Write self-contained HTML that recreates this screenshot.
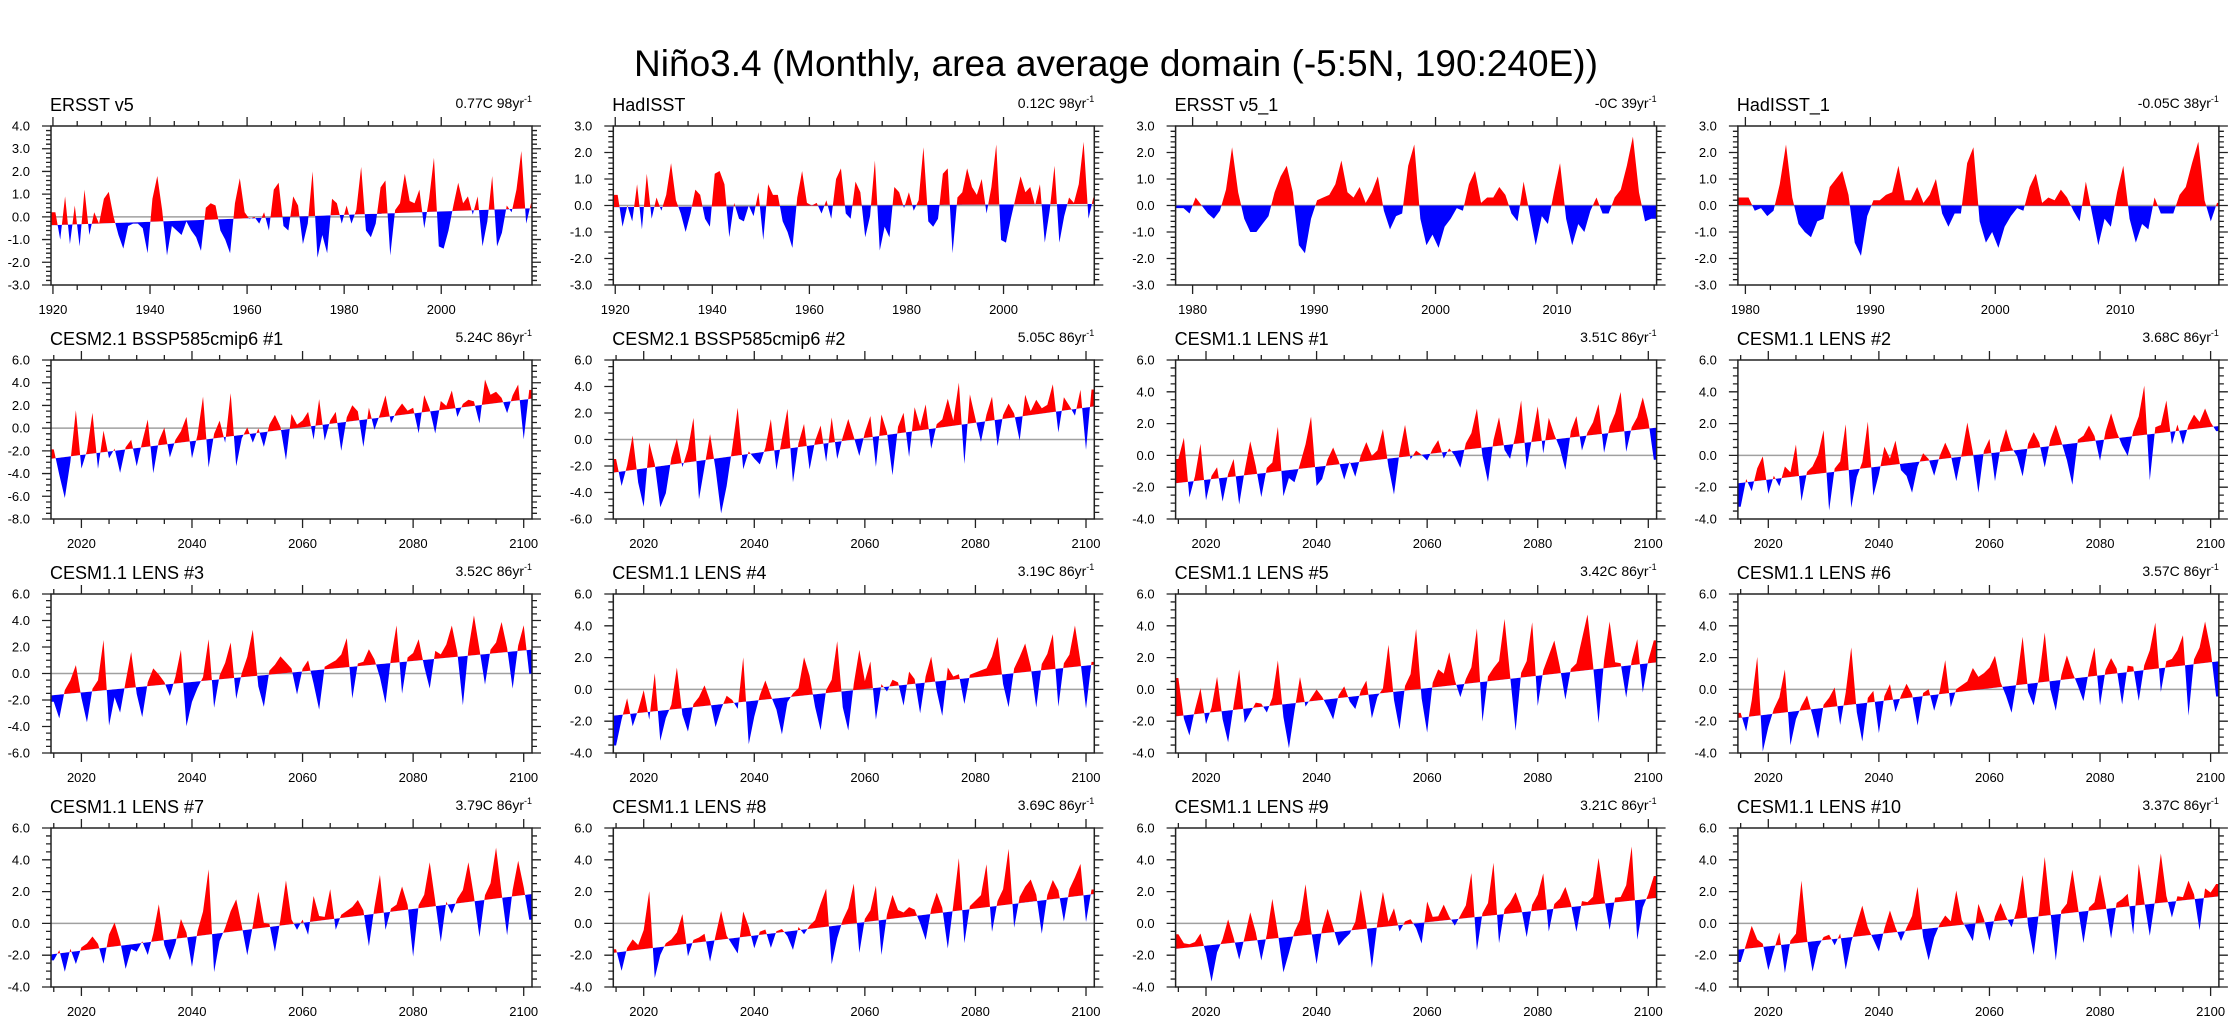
<!DOCTYPE html>
<html>
<head>
<meta charset="utf-8">
<style>
  html, body { margin: 0; padding: 0; background: #fff; }
  #wrap { width: 2236px; height: 1027px; position: relative; overflow: hidden; }
  svg text { font-family: "Liberation Sans", sans-serif; fill: #000; }
</style>
</head>
<body>
<div id="wrap">
<svg id="fig" width="2236" height="1027" viewBox="0 0 2236 1027" xmlns="http://www.w3.org/2000/svg">
  <text x="1116" y="76" text-anchor="middle" font-size="37">Niño3.4 (Monthly, area average domain (-5:5N, 190:240E))</text>
</svg>
</div>
<script>
// ---------- data ----------
const panelTitles = ["ERSST v5","HadISST","ERSST v5_1","HadISST_1",
  "CESM2.1 BSSP585cmip6 #1","CESM2.1 BSSP585cmip6 #2","CESM1.1 LENS #1","CESM1.1 LENS #2",
  "CESM1.1 LENS #3","CESM1.1 LENS #4","CESM1.1 LENS #5","CESM1.1 LENS #6",
  "CESM1.1 LENS #7","CESM1.1 LENS #8","CESM1.1 LENS #9","CESM1.1 LENS #10"];
const trendLabels = ["0.77C 98yr","0.12C 98yr","-0C 39yr","-0.05C 38yr",
  "5.24C 86yr","5.05C 86yr","3.51C 86yr","3.68C 86yr",
  "3.52C 86yr","3.19C 86yr","3.42C 86yr","3.57C 86yr",
  "3.79C 86yr","3.69C 86yr","3.21C 86yr","3.37C 86yr"];
const trendStart = [-0.37,-0.06,0,0.02,-2.7,-2.5,-1.75,-1.75,-1.65,-1.65,-1.7,-1.8,-1.95,-1.85,-1.6,-1.65];
const trendEnd   = [0.38,0.06,0,-0.03,2.6,2.5,1.75,1.85,1.8,1.55,1.7,1.77,1.85,1.85,1.6,1.7];
const yMin = [-3,-3,-3,-3,-8,-6,-4,-4,-6,-4,-4,-4,-4,-4,-4,-4];
const yMax = [4,3,3,3,6,6,6,6,6,6,6,6,6,6,6,6];
const seriesStart = [1920.5,1920.5,1979.25,1980.25,2015,2015,2015,2015,2015,2015,2015,2015,2015,2015,2015,2015];
const seriesStep = [1,1,0.5,0.5,1,1,1,1,1,1,1,1,1,1,1,1];
const valuesAreAnomaly = [false,false,false,false,true,true,true,true,true,true,true,true,true,true,true,true];

const ersstVals = [0.2,-1.0,0.9,-1.2,0.5,-1.3,1.2,-0.8,0.2,-0.3,0.8,1.1,0.0,-0.8,-1.4,-0.4,-0.3,-0.3,-0.5,-1.6,0.8,1.8,0.3,-1.7,-0.4,-0.6,-0.8,-0.2,-0.6,-0.9,-1.5,0.4,0.6,0.5,-0.6,-1.0,-1.6,0.6,1.7,0.2,-0.1,0.0,-0.3,0.2,-0.6,1.2,1.5,-0.4,-0.6,0.9,0.5,-1.2,-0.3,2.0,-1.8,-0.8,-1.6,0.8,0.6,-0.3,0.5,-0.3,0.3,2.2,-0.6,-0.9,-0.3,1.3,1.6,-1.7,0.3,0.6,1.9,0.7,0.6,1.2,-0.5,0.8,2.6,-1.3,-1.4,-0.6,0.5,1.5,0.6,0.9,0.1,0.9,-1.3,-0.2,1.8,-1.3,-0.7,0.5,0.2,1.2,2.9,-0.3,0.6];
const hadisstVals = [0.4,-0.8,0.0,-0.6,0.8,-0.9,1.2,-0.5,0.3,-0.2,0.4,1.6,0.2,-0.3,-1.0,-0.3,0.6,0.4,-0.5,-0.8,1.2,1.3,0.8,-1.2,0.1,-0.5,-0.6,0.0,-0.4,0.5,-1.3,0.8,0.4,0.4,-0.6,-1.0,-1.6,0.3,1.3,0.1,0.0,0.1,-0.3,0.2,-0.5,1.0,1.4,-0.3,-0.5,0.9,0.5,-1.2,-0.4,1.7,-1.7,-0.8,-1.2,0.7,0.5,-0.1,0.5,-0.2,0.2,2.2,-0.6,-0.8,-0.5,1.2,1.4,-1.8,0.3,0.5,1.4,0.7,0.4,1.0,-0.3,0.7,2.3,-1.3,-1.4,-0.5,0.3,1.1,0.5,0.7,0.0,0.8,-1.4,-0.2,1.5,-1.4,-0.4,0.3,0.1,0.8,2.4,-0.5,0.3];
const ersst1Vals = [-0.1,-0.3,0.3,0.0,-0.3,-0.5,-0.2,0.6,2.2,0.5,-0.5,-1.0,-1.0,-0.7,-0.4,0.5,1.1,1.5,0.5,-1.5,-1.8,-0.5,0.2,0.3,0.4,0.8,1.7,0.5,0.3,0.7,0.1,0.5,1.1,-0.2,-0.9,-0.4,-0.3,1.5,2.3,-0.5,-1.5,-1.1,-1.6,-0.8,-0.5,-0.1,-0.2,0.8,1.3,0.1,0.3,0.3,0.7,0.4,-0.3,-0.6,0.9,-0.3,-1.5,-0.4,-0.7,0.5,1.6,-0.5,-1.5,-0.7,-1.0,-0.2,0.3,-0.3,-0.3,0.3,0.6,1.5,2.6,0.5,-0.6,-0.5,0.4,-0.8];
const hadisst1Vals = [0.3,-0.2,-0.1,-0.4,-0.2,0.8,2.3,0.3,-0.7,-1.0,-1.2,-0.6,-0.5,0.7,1.0,1.3,0.4,-1.4,-1.9,-0.4,0.2,0.2,0.4,0.5,1.5,0.2,0.2,0.7,0.1,0.4,1.0,-0.3,-0.8,-0.3,-0.3,1.6,2.2,-0.6,-1.4,-1.0,-1.6,-0.8,-0.4,-0.1,-0.2,0.7,1.2,0.1,0.3,0.2,0.6,0.3,-0.2,-0.6,0.9,-0.3,-1.5,-0.5,-0.8,0.5,1.5,-0.5,-1.4,-0.7,-0.9,0.3,-0.3,-0.3,-0.3,0.4,0.7,1.6,2.4,0.2,-0.6,0.1,-0.4,-0.8];
const cesm2m1Anom = [0.8,-1.5,-3.6,-0.5,4.0,-1.2,0.3,3.6,-1.4,1.9,-0.6,0.2,-2.0,0.2,0.8,-1.6,0.5,2.4,-2.4,0.4,1.5,-1.2,0.3,1.0,2.2,-1.5,0.5,3.8,-2.5,0.4,1.5,-0.5,3.8,-2.7,-0.3,0.6,-0.8,0.4,-1.3,0.6,1.4,0.3,-2.7,1.3,0.3,0.6,1.3,-1.2,2.3,-1.4,0.3,1.0,-2.5,0.4,1.4,0.8,-2.4,1.0,-1.0,0.3,1.9,-0.6,0.4,1.0,0.3,0.5,-1.8,1.5,0.2,-2.0,0.8,0.3,1.6,-0.8,0.3,0.6,0.4,-1.6,2.2,0.8,1.0,0.4,-1.0,0.5,1.4,-3.5,0.8];
const cesm2m2Anom = [1.0,-1.1,0.4,2.6,-1.0,-2.9,1.9,0.2,-3.1,-2.1,0.5,1.9,-0.3,1.0,3.3,-2.9,-0.5,1.9,-0.8,-4.2,-2.2,0.6,3.6,-1.1,0.2,-0.4,-0.9,0.3,2.4,-1.5,0.8,3.0,-2.6,0.3,1.7,-1.8,0.3,1.4,-1.4,1.9,-1.3,0.3,1.6,0.2,-1.3,0.4,1.6,-2.3,1.6,0.2,-3.1,0.5,1.5,-1.9,1.8,0.3,1.9,-1.5,0.3,0.6,2.1,0.4,3.2,-3.0,2.2,0.3,-1.5,0.5,1.8,-2.0,0.3,1.1,0.3,-1.8,1.6,0.3,1.1,0.4,0.6,2.1,-1.6,1.0,0.3,-0.5,1.4,-3.2,1.3];
const lens1Anom = [1.5,2.8,-1.0,0.3,2.3,-1.3,0.2,0.7,-1.5,0.2,1.1,-1.8,0.3,2.1,0.5,-1.5,0.3,0.6,2.8,-1.6,-0.5,-0.8,0.3,1.5,3.2,-1.2,-0.8,0.4,1.1,0.2,-1.0,0.1,-0.9,0.4,1.2,0.3,0.6,1.9,-0.5,-2.3,0.3,2.0,-0.2,0.3,0.0,-0.4,0.3,0.8,-0.4,0.2,-0.3,-1.1,0.4,1.0,2.5,-0.5,-2.2,0.4,1.8,-0.3,-0.9,0.6,2.7,-1.6,0.3,2.2,-0.8,1.4,0.3,-0.6,-2.0,0.4,1.3,-0.9,0.2,0.8,1.9,-1.2,0.4,1.2,2.5,-1.3,0.2,0.8,2.0,0.5,-2.0];
const lens2Anom = [-1.5,0.2,-0.6,0.8,1.5,-0.9,0.2,-0.5,0.7,0.3,2.0,-1.6,0.2,0.5,1.2,2.7,-2.4,0.2,0.6,2.9,-2.4,-0.5,0.4,2.9,-1.8,-0.5,1.2,0.4,1.5,-0.4,-0.8,-1.9,-0.3,0.5,0.1,-1.0,0.2,1.0,0.2,-1.5,0.2,2.1,0.2,-2.4,0.2,0.9,-1.8,0.3,1.4,0.2,-0.4,-1.7,0.3,1.0,0.3,-1.3,0.4,1.3,0.2,-1.0,-2.6,0.2,0.4,1.0,0.3,-1.3,0.5,1.6,0.4,-0.5,-1.2,0.3,1.2,3.1,-2.9,0.4,0.5,2.0,-0.8,0.4,-0.9,0.3,0.9,0.4,1.2,0.3,-0.3];
const lens3Anom = [-0.5,-1.8,0.3,1.0,2.1,-0.4,-2.3,0.2,0.8,3.8,-2.7,-0.6,-1.8,0.5,2.7,-0.5,-2.3,0.3,1.3,0.8,0.2,-0.9,0.5,2.5,-3.3,-1.5,-0.5,0.3,3.1,-2.1,0.3,1.2,2.7,-1.6,0.3,1.5,3.5,-0.8,-2.4,0.3,0.7,1.3,0.8,0.3,-1.7,0.2,0.8,-1.0,-3.0,0.2,0.4,0.6,1.0,2.2,-2.4,0.2,0.3,1.2,0.4,-1.0,-3.0,0.4,2.8,-2.4,0.3,0.6,1.6,-0.5,-2.2,0.6,0.3,1.0,2.4,0.3,-3.7,0.5,3.0,0.4,-2.3,0.3,0.8,2.3,0.3,-2.8,0.4,1.9,-1.8];
const lens4Anom = [-1.9,-0.3,1.0,-0.8,0.2,1.4,-0.5,2.4,-1.9,-0.5,0.3,2.6,-0.4,-1.5,0.2,0.6,1.3,0.3,-1.4,-0.3,0.5,0.2,-0.4,2.8,-2.7,-1.0,0.3,1.2,0.2,-0.7,-2.3,-0.3,0.2,0.5,2.4,1.2,-0.8,-2.3,0.2,0.8,3.2,-1.0,-2.5,0.4,2.5,0.5,1.7,-2.0,0.2,-0.3,0.4,0.2,-1.3,0.8,0.3,-1.9,0.4,1.6,-0.6,-2.2,0.8,0.2,0.3,-1.6,0.2,0.3,0.4,0.5,1.2,2.4,-0.6,-2.1,0.3,1.0,1.8,0.3,-2.3,0.4,1.0,2.2,-2.4,0.3,0.8,2.6,0.3,-2.7,0.2];
const lens5Anom = [2.4,-0.2,-1.3,0.3,1.6,-0.7,0.3,2.2,-0.5,-2.0,0.3,2.5,-0.9,-0.3,0.3,0.2,-0.4,0.5,2.8,-0.8,-2.8,-0.5,1.6,-0.3,0.2,0.7,0.2,-0.5,-1.3,0.2,0.7,-0.3,-0.8,0.3,0.9,-1.5,-0.2,0.3,3.0,-0.5,-2.4,0.3,1.0,3.8,-0.6,-2.8,0.3,1.1,0.8,2.1,0.3,-0.8,0.3,1.0,3.4,-2.5,0.3,0.8,1.2,3.8,0.2,-3.3,0.3,1.0,3.4,-1.9,0.3,1.2,2.1,0.4,-1.7,0.2,0.5,2.0,3.5,0.3,-3.4,0.5,2.9,0.3,0.2,-2.0,0.3,1.6,-1.8,0.2,1.4];
const lens6Anom = [0.3,-0.9,1.0,3.7,-2.3,-0.8,0.3,1.0,2.7,-2.1,-0.5,0.3,0.9,-0.4,-1.9,0.2,0.6,1.2,-1.2,0.8,3.6,-0.5,-2.4,0.3,0.7,-2.0,0.3,1.0,-0.8,0.2,0.9,0.2,-1.8,0.2,0.4,-1.0,0.2,2.1,-0.9,0.2,0.4,0.6,1.4,0.8,1.0,1.3,2.0,0.3,-0.6,-1.7,0.4,3.0,-0.5,-1.4,0.4,3.1,-0.5,-1.9,0.3,1.5,0.4,-0.5,-1.5,0.4,1.8,-1.9,0.3,1.0,0.3,-2.0,0.4,0.3,-1.9,0.3,1.2,2.9,-1.5,0.4,0.5,1.0,1.9,-3.2,0.3,1.0,2.6,0.8,-2.2];
const lens7Anom = [-0.4,0.2,-1.2,0.2,-0.8,0.2,0.4,0.8,0.3,-1.0,0.8,1.5,0.3,-1.5,-0.3,-0.5,0.1,-0.8,0.5,2.3,-0.3,-1.3,-0.3,1.2,0.3,-1.9,0.3,1.5,4.1,-2.4,-0.5,0.3,1.3,2.0,0.3,-1.6,0.2,2.3,0.3,0.2,-1.6,0.4,2.8,0.3,-0.4,0.2,-0.8,1.6,0.3,0.2,1.9,-0.7,0.2,0.4,0.6,1.0,0.3,-2.0,0.4,2.4,-1.1,0.2,0.4,1.5,0.3,-3.0,0.2,0.8,2.8,0.3,-2.3,0.2,-0.6,0.3,0.8,2.5,0.3,-2.3,0.3,1.0,3.2,0.3,-2.4,0.4,2.2,0.5,-1.6];
const lens8Anom = [0.2,-1.2,0.2,0.7,0.3,1.2,3.6,-1.9,-0.5,0.2,0.4,0.8,1.9,-0.8,0.2,0.3,0.5,-1.3,0.3,1.8,0.2,-0.4,-1.0,1.6,0.6,-0.8,0.2,0.3,-0.9,0.1,0.2,-0.3,-1.2,0.2,-0.3,0.2,0.5,1.5,2.4,-2.4,-0.8,0.3,1.0,2.5,-1.9,0.2,0.7,2.2,-2.2,0.3,1.5,0.5,0.3,0.6,0.4,-0.5,-1.6,0.3,1.3,0.3,-2.3,0.4,3.3,-2.1,0.2,0.5,0.8,2.7,-1.6,0.3,1.0,3.5,-1.5,0.4,1.0,1.4,0.4,-2.1,0.3,1.2,0.5,-1.5,0.5,1.2,2.0,-1.7,0.3];
const lens9Anom = [0.9,0.3,0.2,0.3,0.8,-0.5,-2.3,-0.5,0.3,1.5,0.3,-1.1,0.3,1.8,0.5,-1.3,0.3,2.5,0.3,-2.2,-1.0,0.3,1.0,3.2,0.3,-1.9,0.3,1.5,0.3,-0.9,-0.5,-0.2,0.5,2.5,0.3,-2.5,0.3,2.2,0.3,1.1,-0.4,0.2,0.3,-0.3,-1.3,1.3,0.3,0.3,1.0,0.2,-0.4,0.2,0.8,2.8,-2.1,0.2,0.8,3.3,-1.8,0.3,0.7,1.3,0.3,-1.6,0.4,1.0,2.3,-1.4,0.3,0.6,1.3,0.2,-1.6,0.3,0.2,0.5,2.9,0.4,-1.7,0.3,0.3,1.0,3.4,-2.5,-0.5,0.3,1.4];
const lens10Anom = [-0.8,0.3,1.4,0.5,0.2,-1.5,-0.3,0.8,-1.8,0.2,0.6,3.9,0.2,-1.9,-0.4,0.2,0.3,-0.4,0.3,-2.0,-0.3,0.8,1.9,0.5,-0.3,-1.1,0.3,1.4,0.3,-0.6,0.2,0.9,2.7,-0.5,-2.0,-0.6,0.2,0.7,0.3,2.2,0.3,-0.4,-1.1,1.2,0.2,-1.2,0.3,1.1,0.2,-0.5,0.6,2.7,-0.5,-2.4,0.4,3.7,0.3,-2.9,0.2,0.6,2.7,0.3,-2.0,0.2,0.5,2.2,0.3,-1.9,0.3,0.5,0.8,-1.8,2.6,0.2,-2.0,0.3,3.1,0.4,-1.0,0.3,0.2,1.2,0.3,-2.0,0.6,0.3,0.8];

const seriesList = [ersstVals, hadisstVals, ersst1Vals, hadisst1Vals, cesm2m1Anom, cesm2m2Anom,
  lens1Anom, lens2Anom, lens3Anom, lens4Anom, lens5Anom, lens6Anom, lens7Anom, lens8Anom, lens9Anom, lens10Anom];

// ---------- layout (not data) ----------
const xMinArr = [1919.6,1919.6,1978.6,1979.4];
const xMaxArr = [2018.7,2018.7,2018.2,2017.9];
const NS = "http://www.w3.org/2000/svg";
const svg = document.getElementById("fig");
function mk(tag, attrs, parent) {
  const e = document.createElementNS(NS, tag);
  for (const k in attrs) e.setAttribute(k, attrs[k]);
  (parent || svg).appendChild(e);
  return e;
}
function fmt(v){ return (Math.abs(v) < 1e-9 ? 0 : v).toFixed(1); }

for (let p = 0; p < 16; p++) {
  const row = Math.floor(p / 4), col = p % 4;
  const L = 51 + col * 562.3, W = 481, T = 126 + row * 234, H = 159;
  const x0 = p < 4 ? xMinArr[p] : 2014.5, x1 = p < 4 ? xMaxArr[p] : 2101.5;
  const y0 = yMin[p], y1 = yMax[p];
  const sx = t => L + (t - x0) / (x1 - x0) * W;
  const sy = v => T + H - (v - y0) / (y1 - y0) * H;
  const trend = t => trendStart[p] + (trendEnd[p] - trendStart[p]) * (t - x0) / (x1 - x0);

  const g = mk("g", {});
  
  

  const defs = mk("defs", {}, g);
  const cpA = mk("clipPath", {id: "ca" + p}, defs);
  mk("polygon", {points: `${L},${T} ${L+W},${T} ${L+W},${sy(trend(x1))} ${L},${sy(trend(x0))}`}, cpA);
  const cpB = mk("clipPath", {id: "cb" + p}, defs);
  mk("polygon", {points: `${L},${sy(trend(x0))} ${L+W},${sy(trend(x1))} ${L+W},${T+H} ${L},${T+H}`}, cpB);

  const zl = mk("line", {x1: L, x2: L + W, y1: sy(0), y2: sy(0), stroke: "#a0a0a0", "stroke-width": 1.5}, g);
  
  

  const vals = seriesList[p];
  const pts = [];
  for (let i = 0; i < vals.length; i++) {
    const t = seriesStart[p] + i * seriesStep[p];
    if (t < x0 || t > x1) continue;
    const v = valuesAreAnomaly[p] ? trend(t) + vals[i] : vals[i];
    pts.push([t, v]);
  }
  const first = pts[0], last = pts[pts.length - 1];
  const poly = [[x0, first[1]], ...pts, [x1, last[1]]];
  let ptsStr = poly.map(q => sx(q[0]).toFixed(2) + "," + sy(q[1]).toFixed(2)).join(" ");
  ptsStr += ` ${sx(x1).toFixed(2)},${sy(trend(x1)).toFixed(2)} ${sx(x0).toFixed(2)},${sy(trend(x0)).toFixed(2)}`;
  const redA = mk("polygon", {points: ptsStr, fill: "#ff0000", "clip-path": `url(#ca${p})`}, g);
  
  
  const blueA = mk("polygon", {points: ptsStr, fill: "#0000ff", "clip-path": `url(#cb${p})`}, g);
  
  

  const fr = mk("rect", {x: L, y: T, width: W, height: H, fill: "none", stroke: "#222", "stroke-width": 1.5}, g);
  
  

  let d = "";
  const yMinor = p < 4 ? 0.2 : 0.5, yMajor = p < 4 ? 1 : 2;
  const nY = Math.round((y1 - y0) / yMinor);
  for (let k = 0; k <= nY; k++) {
    const v = y0 + k * yMinor;
    const major = Math.abs(v / yMajor - Math.round(v / yMajor)) < 1e-6;
    const len = major ? 9 : 5, y = sy(v);
    d += `M${L},${y}h${-len}M${L+W},${y}h${len}`;
  }
  const xMinor = (p === 2 || p === 3) ? 2 : 5;
  const xMajor = (p === 2 || p === 3) ? 10 : 20;
  for (let yr = Math.ceil(x0 / xMinor) * xMinor; yr <= x1; yr += xMinor) {
    const major = yr % xMajor === 0;
    const len = major ? 9 : 5, x = sx(yr);
    d += `M${x},${T}v${-len}M${x},${T+H}v${len}`;
  }
  const tk = mk("path", {d: d, stroke: "#222", "stroke-width": 1.3, fill: "none"}, g);
  
  

  for (let v = y0; v <= y1 + 1e-9; v += yMajor) {
    const tl = mk("text", {x: L - 21, y: sy(v) + 4.5, "text-anchor": "end", "font-size": 13}, g);
    tl.textContent = fmt(v);
    
    
  }
  for (let yr = Math.ceil(x0 / xMajor) * xMajor; yr <= x1; yr += xMajor) {
    const xl = mk("text", {x: sx(yr), y: T + H + 29, "text-anchor": "middle", "font-size": 13}, g);
    xl.textContent = String(yr);
    
    
  }
  const tt = mk("text", {x: L - 1, y: T - 15, "font-size": 18}, g);
  tt.textContent = panelTitles[p];
  
  
  const tr = mk("text", {x: L + W, y: T - 18, "text-anchor": "end", "font-size": 14}, g);
  
  
  const s1 = mk("tspan", {}, tr);
  s1.textContent = trendLabels[p];
  const s2 = mk("tspan", {dy: -6, "font-size": 9}, tr);
  s2.textContent = "-1";
}
</script>
</body>
</html>
